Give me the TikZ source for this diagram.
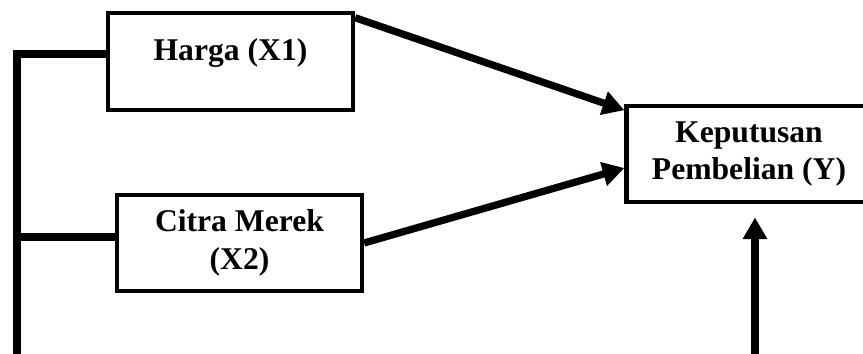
\documentclass[tikz,border=0pt]{standalone}
\usepackage{fontspec}
\setmainfont{Liberation Serif}
\usepackage{tikz}
\usetikzlibrary{arrows.meta}

\begin{document}
\begin{tikzpicture}
    \useasboundingbox (0,0) rectangle (25.89,10.59);
    \clip (0,0) rectangle (25.89,10.59);

    \begin{scope}[every node/.style={rectangle,draw=black,line width=3.6pt,
        font=\bfseries\fontsize{27}{32}\selectfont,align=center,
        minimum width=7.35cm,minimum height=2.9cm}]
      \node (A) at (6.915,8.745) [text depth=0.7cm] {Harga (X1)};
      \node (B) at (7.185,3.3) {Citra Merek\\(X2)};
      \node (Y) at (22.47,5.97) {Keputusan\\Pembelian (Y)};
    \end{scope}

    \coordinate (L) at (0.51,8.97);
    \coordinate (M) at (0.51,3.48);
    \coordinate (R) at (22.65,-0.6);

    \begin{scope}[>={Triangle[length=0.65cm,width=0.7cm]},
        every edge/.style={draw=black,line width=6.2pt}]
      \draw[line width=6.2pt] (L -| A.west) -- (L) |- (R);
      \draw[line width=6.2pt] (M) -- (M -| B.west);
      \path [->] ([yshift=-0.2cm]A.north east) edge ([yshift=-0.2cm]Y.north west);
      \path [->] (B.east) edge ([yshift=-0.42cm]Y.west);
      \path [->] (R) edge ([yshift=-0.39cm]R |- Y.south);
    \end{scope}
  \end{tikzpicture}
\end{document}
